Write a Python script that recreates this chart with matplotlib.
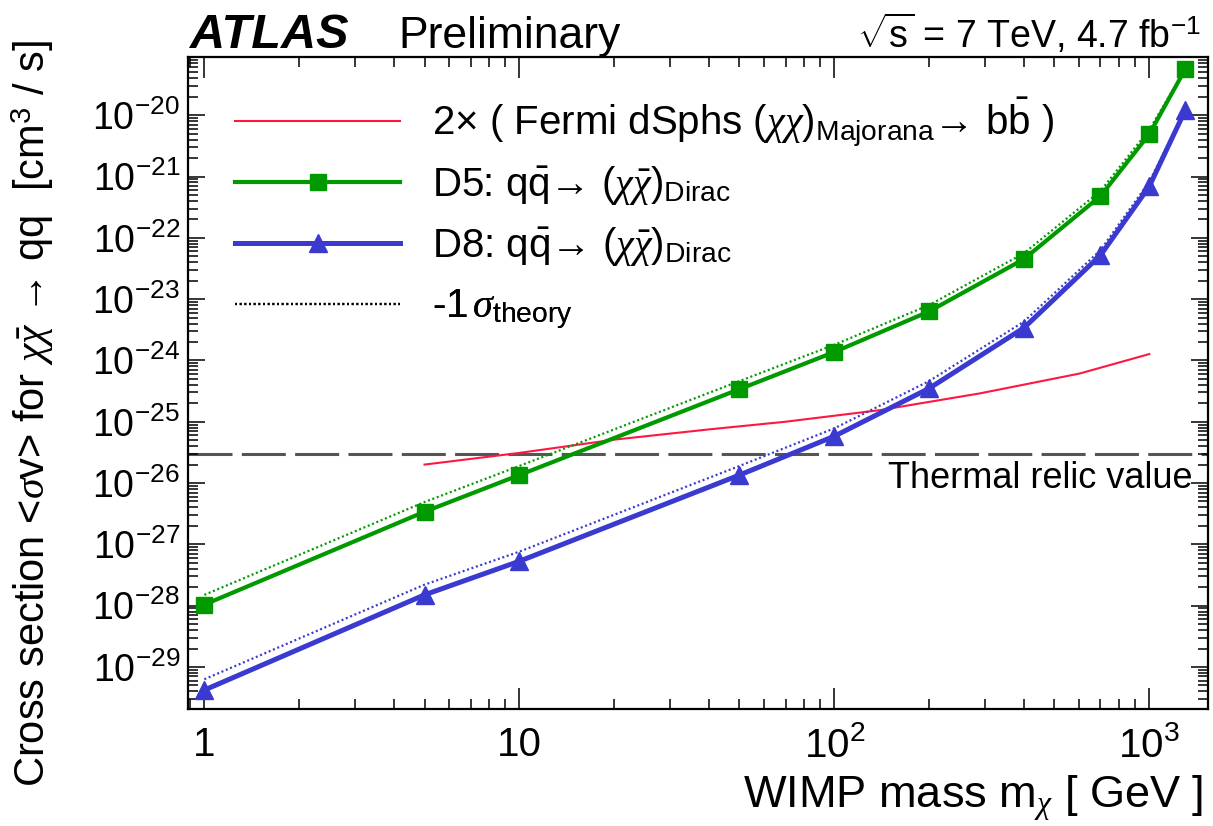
import numpy as np
import matplotlib
matplotlib.use("Agg")
import matplotlib.pyplot as plt
from matplotlib.ticker import LogLocator, FixedLocator, FuncFormatter, NullFormatter
from matplotlib.lines import Line2D

plt.rcParams['font.family'] = ['Liberation Sans', 'DejaVu Sans']
plt.rcParams['mathtext.fontset'] = 'custom'
plt.rcParams['mathtext.rm'] = 'Liberation Sans'
plt.rcParams['mathtext.it'] = 'Liberation Serif:italic'
plt.rcParams['mathtext.bf'] = 'Liberation Sans:bold'

# ---------------- data ----------------
mass = [1, 5, 10, 50, 100, 200, 400, 700, 1000, 1300]
d5 = [1.04e-28, 3.4e-27, 1.35e-26, 3.4e-25, 1.37e-24, 6.3e-24, 4.5e-23, 4.8e-22, 4.9e-21, 5.6e-20]
d5_m1s = [1.5e-28, 4.9e-27, 1.9e-26, 4.6e-25, 1.8e-24, 8.0e-24, 5.6e-23, 5.8e-22, 5.8e-21, 5.6e-20]
d8 = [4.2e-30, 1.5e-28, 5.3e-28, 1.35e-26, 5.8e-26, 3.5e-25, 3.4e-24, 5.2e-23, 6.9e-22, 1.2e-20]
d8_m1s = [6.3e-30, 2.2e-28, 7.6e-28, 1.9e-26, 7.8e-26, 4.6e-25, 4.3e-24, 6.3e-23, 8.2e-22, 1.2e-20]

fermi_mass = [5, 10, 20, 40, 70, 140, 290, 600, 1000]
fermi = [2.0e-26, 3.1e-26, 5.1e-26, 7.5e-26, 1.0e-25, 1.55e-25, 2.9e-25, 6.1e-25, 1.27e-24]

thermal_relic = 3.0e-26

xlim = (0.889, 1531)
ylim = (2.04e-30, 8.9e-20)

x_major = [1, 10, 100, 1000]
y_major_exp = list(range(-29, -19))

legend_labels = [
    r'2$\times$ ( Fermi dSphs $(\chi\chi)_{\mathrm{Majorana}}$→ b$\bar{\mathrm{b}}$ )',
    r'D5: q$\bar{\mathrm{q}}$→ $(\chi\bar{\chi})_{\mathrm{Dirac}}$',
    r'D8: q$\bar{\mathrm{q}}$→ $(\chi\bar{\chi})_{\mathrm{Dirac}}$',
    r'-1$\,\sigma_{\mathrm{theory}}$',
]

# colours
c_red = '#ff1744'
c_green = '#009a00'
c_blue = '#3a3ad0'
c_dash = '#555555'

fig = plt.figure(figsize=(12.13, 8.26), dpi=100)
ax = fig.add_axes([0.1552, 0.1413, 0.8403, 0.7897])

ax.set_xscale('log')
ax.set_yscale('log')
ax.set_xlim(*xlim)
ax.set_ylim(*ylim)

dot = (0, (0.9, 1.2))

# thermal relic
ax.axhline(thermal_relic, color=c_dash, lw=2.2, dashes=(14.4, 3.05), zorder=1)

# Fermi
ax.plot(fermi_mass, fermi, color=c_red, lw=1.5, zorder=2)

# D5
ax.plot(mass, d5_m1s, color=c_green, lw=1.6, ls=dot, zorder=3)
ax.plot(mass, d5, color=c_green, lw=3.0, marker='s', ms=12, zorder=4)
# D8
ax.plot(mass, d8_m1s, color=c_blue, lw=1.6, ls=dot, zorder=3)
ax.plot(mass, d8, color=c_blue, lw=3.6, marker='^', ms=13, zorder=4)

ax.annotate('Thermal relic value', xy=(0.985, thermal_relic),
            xycoords=('axes fraction', 'data'), xytext=(0, -5),
            textcoords='offset points', ha='right', va='top', fontsize=26)

# ticks
ax.xaxis.set_major_locator(FixedLocator(x_major))
ax.xaxis.set_minor_locator(LogLocator(base=10, subs=np.arange(2, 10), numticks=20))
ax.yaxis.set_major_locator(FixedLocator([10.0 ** e for e in y_major_exp]))
ax.yaxis.set_minor_locator(LogLocator(base=10, subs=np.arange(2, 10), numticks=30))
ax.xaxis.set_minor_formatter(NullFormatter())
ax.yaxis.set_minor_formatter(NullFormatter())


def xfmt(v, pos):
    e = int(round(np.log10(v)))
    if e == 0:
        return '1'
    if e == 1:
        return '10'
    return r'$\mathregular{10^{%d}}$' % e


def yfmt(v, pos):
    e = int(round(np.log10(v)))
    return r'$\mathregular{10^{%d}}$' % e


ax.xaxis.set_major_formatter(FuncFormatter(xfmt))
ax.yaxis.set_major_formatter(FuncFormatter(yfmt))

ax.tick_params(which='both', direction='in', top=True, right=True, width=1.1, color='black')
ax.tick_params(axis='x', which='major', length=15, labelsize=29, pad=12)
ax.tick_params(axis='y', which='major', length=12, labelsize=27, pad=6)
ax.tick_params(which='minor', length=7)
for s in ax.spines.values():
    s.set_linewidth(1.6)

# axis titles
fig.text(1203 / 1213, 1 - 798 / 826, r'WIMP mass m$_{\chi}$ [ GeV ]', ha='right', va='center', fontsize=32.5)
fig.text(33 / 1213, 1 - 414 / 826,
         r'Cross section <$\sigma$v> for $\chi\bar{\chi}$ → qq  [cm$^{3}$ / s]',
         rotation=90, ha='center', va='center', fontsize=30)

# header
fig.text(190 / 1213, 1 - 48 / 826, 'ATLAS', fontsize=35, fontweight='bold', fontstyle='italic', ha='left', va='baseline')
fig.text(398 / 1213, 1 - 48 / 826, 'Preliminary', fontsize=32, ha='left', va='baseline')
fig.text(1201 / 1213, 1 - 48 / 826, r'$\sqrt{\mathrm{s}}$ = 7 TeV, 4.7 fb$^{-1}$', fontsize=27, ha='right', va='baseline')

# legend: one row per legend for exact row placement
handles = [
    Line2D([], [], color=c_red, lw=1.5),
    Line2D([], [], color=c_green, lw=3.0, marker='s', ms=12),
    Line2D([], [], color=c_blue, lw=3.6, marker='^', ms=13),
    Line2D([], [], color='black', lw=1.6, ls=dot),
]
row_y = [0.900, 0.803, 0.710, 0.612]
for h, lab, yy in zip(handles, legend_labels, row_y):
    lg = ax.legend([h], [lab], loc='center left', bbox_to_anchor=(0.0458, yy),
                   frameon=False, fontsize=29, handlelength=4.1, handletextpad=0.8,
                   numpoints=1, borderaxespad=0, borderpad=0)
    ax.add_artist(lg)

fig.savefig('out.png', dpi=100)
